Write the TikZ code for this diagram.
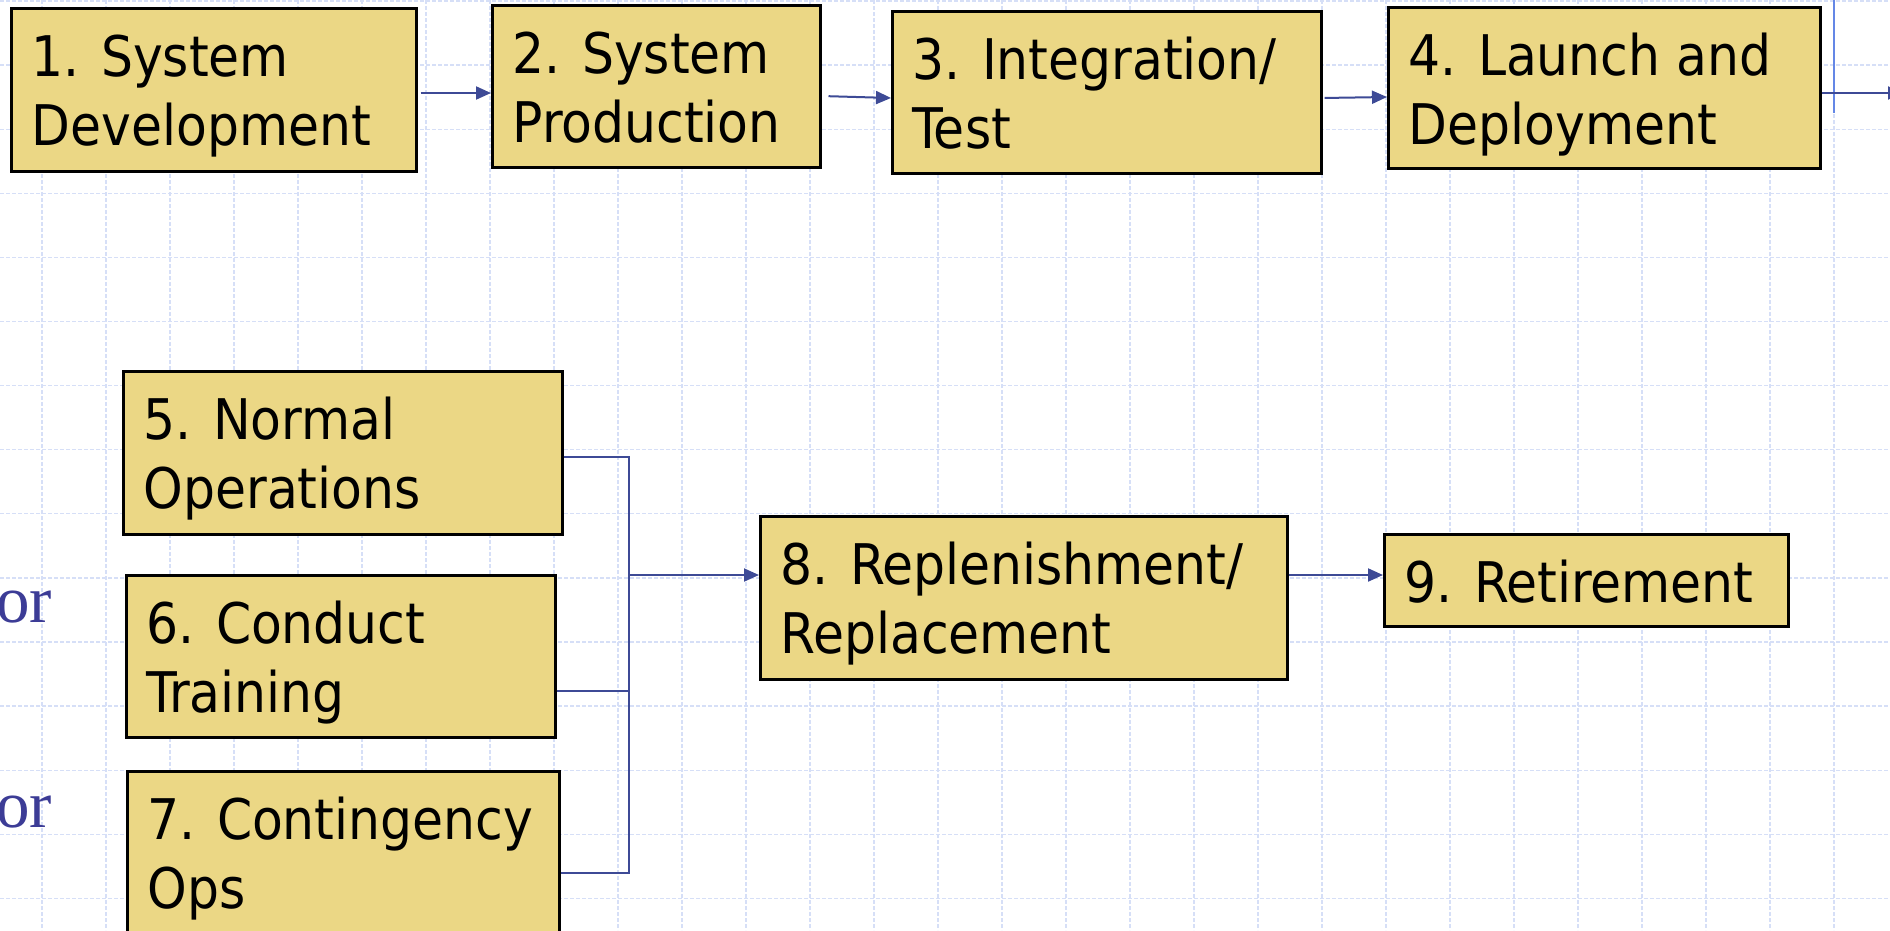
\documentclass[tikz,border=0pt]{standalone}
\usepackage{fontspec}
\newfontfamily\boxfont{DejaVu Sans Condensed}
\newfontfamily\orfont{Liberation Serif}
\usetikzlibrary{arrows.meta,calc}
\definecolor{boxfill}{RGB}{235,215,133}
\definecolor{connblue}{RGB}{61,74,150}
\definecolor{gridblue}{RGB}{214,223,247}
\definecolor{barblue}{RGB}{100,135,230}
\definecolor{orblue}{RGB}{60,60,150}
\tikzset{
 stagebox/.style={draw=black, line width=2.5pt, fill=boxfill, inner sep=0pt, rectangle},
 stagetext/.style={anchor=base west, inner sep=0pt, font=\boxfont\fontsize{56}{69}\selectfont},
 conn/.style={draw=connblue, line width=2pt},
 arr/.style={conn, -{Triangle[length=15pt,width=13pt]}},
 gridline/.style={draw=gridblue, line width=1.3pt, dash pattern=on 4pt off 2pt},
 ortext/.style={anchor=base west, inner sep=0pt, text=orblue, font=\orfont\fontsize{67}{67}\selectfont},
}
\newcommand\mkstage[7]{%
  \node[stagebox, minimum width={#4-#2}, minimum height={#5-#3}, anchor=north west] (#1) at (#2,#3) {};
  \node[stagetext] (#1t) at ($(#1.north west)+(21.5,69)$) {\vtop{\hbox{#6}\hbox{#7}}};
}
\begin{document}
\begin{tikzpicture}[x=1pt,y=-1pt]
\useasboundingbox (0,0) rectangle (1890,930);
\clip (0,0) rectangle (1890,930);
\fill[white] (0,0) rectangle (1890,930);
\foreach \i in {0,...,28} \draw[gridline] ({42+64*\i},0) -- ({42+64*\i},930);
\foreach \j in {0,...,14} \draw[gridline] (0,{1+64.1*\j}) -- (1890,{1+64.1*\j});

\mkstage{b1}{10}{7}{415}{170}{1. System}{Development}
\mkstage{b2}{491}{4}{819}{166}{2. System}{Production}
\mkstage{b3}{891}{10}{1320}{172}{3. Integration/}{Test}
\mkstage{b4}{1387}{6}{1819}{167}{4. Launch and}{Deployment}
\mkstage{b5}{122}{370}{561}{533}{5. Normal}{Operations}
\mkstage{b6}{125}{574}{554}{736}{6. Conduct}{Training}
\mkstage{b7}{126}{770}{558}{960}{7. Contingency}{Ops}
\mkstage{b8}{759}{515}{1286}{678}{8. Replenishment/}{Replacement}
\mkstage{b9}{1383}{533}{1787}{625}{9. Retirement}{}

\node[ortext] (or1) at (-4,622) {or};
\node[ortext] (or2) at (-4,827) {or};

\draw[barblue, line width=2.5pt] (1834,0) -- (1834,113);

\draw[arr, shorten <=3pt] (b1.east |- 0,93) -- (b2.west |- 0,93);
\draw[arr, shorten <=7pt] (b2.east |- 0,96) -- (b3.west |- 0,98);
\draw[arr, shorten <=2pt] (b3.east |- 0,98) -- (b4.west |- 0,97);
\coordinate (out) at (1903,93);
\draw[arr] (b4.east |- out) -- (out);

\coordinate (jtop) at (629,457);
\coordinate (jbot) at (629,873);
\coordinate (jmid) at (629,575);
\draw[conn] (b5.east |- jtop) -- (jtop) -- (jbot) -- (b7.east |- jbot);
\draw[conn] (b6.east |- 0,691) -- (jtop |- 0,691);
\draw[arr] (jmid) -- (b8.west |- jmid);
\draw[arr] (b8.east |- 0,575) -- (b9.west |- 0,575);
\end{tikzpicture}
\end{document}
